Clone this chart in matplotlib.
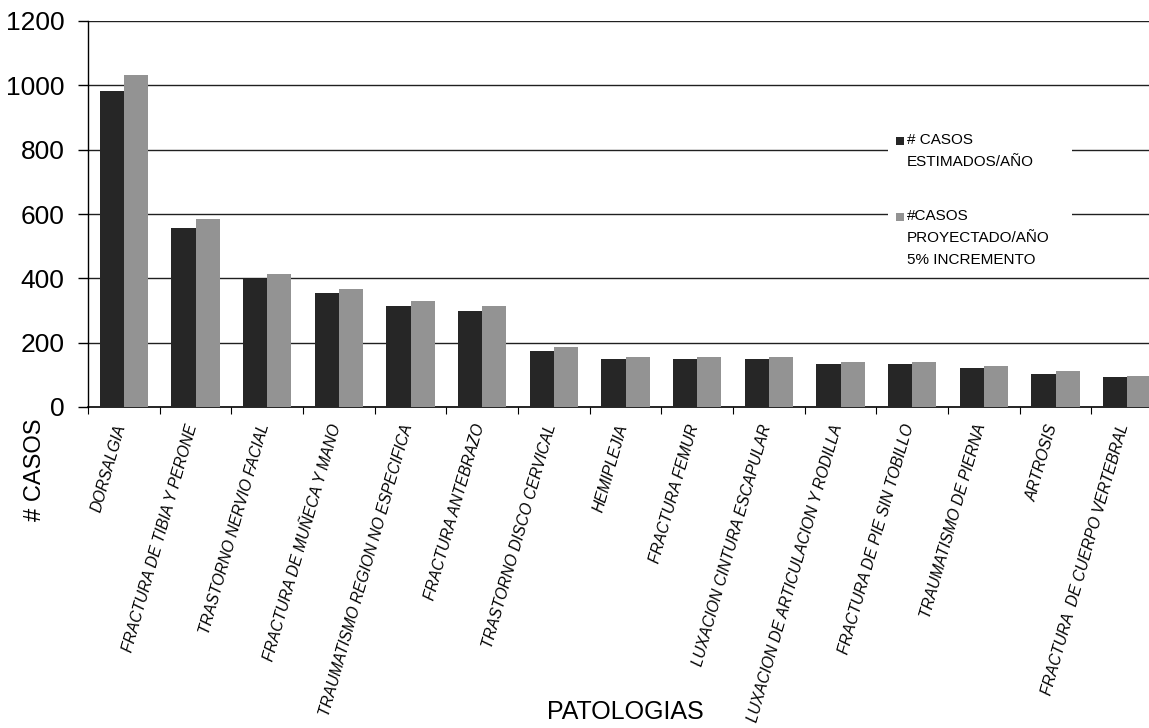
import matplotlib
matplotlib.use("Agg")
import matplotlib.pyplot as plt
import numpy as np
from matplotlib.patches import Rectangle

plt.rcParams['font.family'] = ['Liberation Sans', 'DejaVu Sans']

categorias = [
    "DORSALGIA",
    "FRACTURA DE TIBIA Y PERONE",
    "TRASTORNO NERVIO FACIAL",
    "FRACTURA DE MUÑECA Y MANO",
    "TRAUMATISMO REGION NO ESPECIFICA",
    "FRACTURA ANTEBRAZO",
    "TRASTORNO DISCO CERVICAL",
    "HEMIPLEJIA",
    "FRACTURA FEMUR",
    "LUXACION CINTURA ESCAPULAR",
    "LUXACION DE ARTICULACION Y RODILLA",
    "FRACTURA DE PIE SIN TOBILLO",
    "TRAUMATISMO DE PIERNA",
    "ARTROSIS",
    "FRACTURA  DE CUERPO VERTEBRAL",
]
casos_estimados = [982, 556, 398, 354, 314, 298, 174, 149, 149, 149, 134, 134, 121, 103, 93]
casos_proyectados = [1031, 584, 413, 368, 329, 314, 186, 155, 155, 155, 140, 140, 126, 112, 97]
y_ticks = [0, 200, 400, 600, 800, 1000, 1200]

COL_EST = "#262626"
COL_PROY = "#939393"

W, H = 1149, 728
fig = plt.figure(figsize=(W / 100, H / 100), dpi=100)
ax = fig.add_axes([88 / W, 1 - 407 / H, (1163 - 88) / W, (407 - 21) / H])

n = len(categorias)
x = np.arange(n)
bw = 0.335
ax.bar(x - bw / 2, casos_estimados, width=bw, color=COL_EST, zorder=3)
ax.bar(x + bw / 2, casos_proyectados, width=bw, color=COL_PROY, zorder=3)

ax.set_xlim(-0.5, n - 0.5)
ax.set_ylim(0, 1200)
ax.set_yticks(y_ticks)
ax.set_yticklabels([str(v) for v in y_ticks], fontsize=19)
for v in y_ticks[1:]:
    ax.axhline(v, color="#202020", lw=1.0, zorder=1)

ax.set_xticks(x)
ax.set_xticklabels([])
ax.tick_params(axis="x", length=0)
ax.set_xticks(np.arange(n + 1) - 0.5, minor=True)
ax.tick_params(axis="x", which="minor", length=5, width=0.8, direction="out")
ax.tick_params(axis="y", length=7, width=1.0, direction="out", pad=10)

for s in ["top", "right"]:
    ax.spines[s].set_visible(False)
ax.spines["left"].set_linewidth(1.0)
ax.spines["bottom"].set_linewidth(1.2)

for i, lab in enumerate(categorias):
    ax.annotate(lab, xy=(i, 0), xycoords="data", xytext=(-7, -11),
                textcoords="offset points", rotation=74, ha="right", va="top",
                rotation_mode="anchor", fontsize=11.2, style="italic")

fig.text(35 / W, 1 - 470 / H, "# CASOS", rotation=90, ha="center", va="center", fontsize=17)
fig.text(625 / W, 1 - 712 / H, "PATOLOGIAS", ha="center", va="center", fontsize=18)

# legend block: white box hiding the grid, square keys and stacked labels
bx0, by0, bx1, by1 = 888, 128, 1072, 274
fig.patches.append(Rectangle((bx0 / W, 1 - by1 / H), (bx1 - bx0) / W, (by1 - by0) / H,
                             transform=fig.transFigure, facecolor="white",
                             edgecolor="none", zorder=5))
fig.patches.append(Rectangle((896 / W, 1 - 145 / H), 8 / W, 8 / H,
                             transform=fig.transFigure, facecolor=COL_EST,
                             edgecolor="none", zorder=6))
fig.patches.append(Rectangle((896 / W, 1 - 221 / H), 8 / W, 8 / H,
                             transform=fig.transFigure, facecolor=COL_PROY,
                             edgecolor="none", zorder=6))
fig.text(907 / W, 1 - 133 / H, "# CASOS\nESTIMADOS/AÑO", ha="left", va="top",
         fontsize=11, linespacing=1.75, zorder=7)
fig.text(907 / W, 1 - 209 / H, "#CASOS\nPROYECTADO/AÑO\n5% INCREMENTO", ha="left", va="top",
         fontsize=11, linespacing=1.75, zorder=7)

fig.savefig("out.png", dpi=100)
